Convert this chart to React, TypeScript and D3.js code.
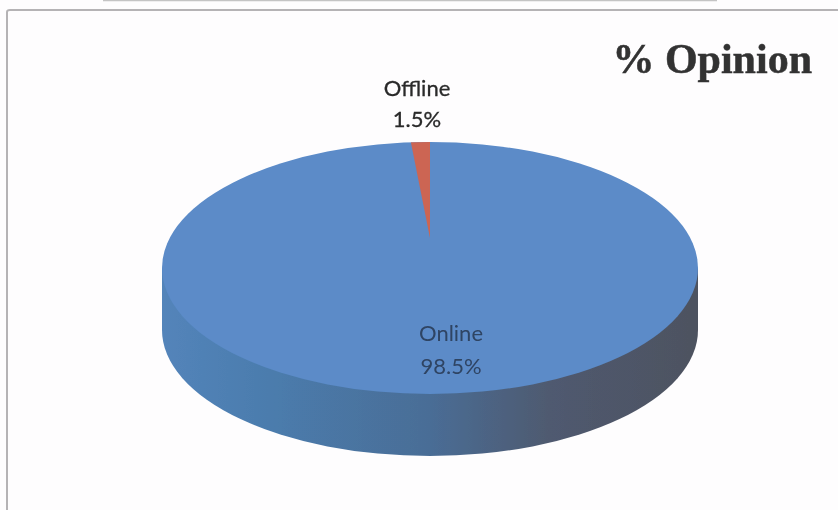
import React from "react";
import * as d3 from "d3";

const categories = ["Online", "Offline"];
const shares = [98.5, 1.5];
const shareLabels = ["98.5%", "1.5%"];
const colors = ["#5b8bc8", "#cc6553"];
const title = "% Opinion";

const W = 838, H = 510;
const cx = 430, cy = 268, rx = 268, ry = 126, depth = 62;
const apexY = 238;

export default function App() {
  const pie = d3.pie<number>().sort(null).startAngle(0).endAngle(2 * Math.PI)(shares);
  const arc = d3.arc<d3.PieArcDatum<number>>().innerRadius(0).outerRadius(1);
  const sidePath =
    `M${cx - rx},${cy} L${cx - rx},${cy + depth} ` +
    `A${rx},${ry} 0 0 0 ${cx + rx},${cy + depth} L${cx + rx},${cy} Z`;
  const sliceRx = 207;
  const sliceRy = apexY - (cy - ry);
  return (
    <svg width={W} height={H} viewBox={`0 0 ${W} ${H}`}
      style={{ position: "fixed", left: 0, top: 0, display: "block", background: "#fefdfe" }}>
      <defs>
        <linearGradient id="side" x1="0" x2="1" y1="0" y2="0">
          <stop offset="0" stopColor="#5384ba" />
          <stop offset="0.2" stopColor="#4b7cad" />
          <stop offset="0.5" stopColor="#4a6d96" />
          <stop offset="0.72" stopColor="#4f5a70" />
          <stop offset="1" stopColor="#4e5260" />
        </linearGradient>
        <clipPath id="top"><ellipse cx={cx} cy={cy} rx={rx} ry={ry} /></clipPath>
        <filter id="soft" x="-5%" y="-5%" width="110%" height="110%"><feGaussianBlur stdDeviation="0.7" /></filter>
        <filter id="softText" x="-5%" y="-20%" width="110%" height="140%"><feGaussianBlur stdDeviation="0.35" /></filter>
      </defs>
      <line x1={103} x2={717} y1={0.5} y2={0.5} stroke="#c4c4c4" strokeWidth={1.5} />
      <path d={`M7,${H} L7,12 Q7,10 10,10 L${W},10`} fill="none" stroke="#b5b3b5" strokeWidth={2} />
      <g filter="url(#soft)">
        <path d={sidePath} fill="url(#side)" />
        <ellipse cx={cx} cy={cy} rx={rx} ry={ry} fill={colors[0]} />
        <g clipPath="url(#top)">
          <g transform={`translate(${cx},${apexY}) scale(${sliceRx},${sliceRy * 1.02})`}>
            <path d={arc(pie[1]) as string} fill={colors[1]} />
          </g>
        </g>
      </g>
      <g fontFamily="Lato, 'Noto Sans', sans-serif" fontSize={22} textAnchor="middle" filter="url(#softText)">
        <text x={417} y={96} fill="#2a2a2a" stroke="#2a2a2a" strokeWidth={0.3}>{categories[1]}</text>
        <text x={417} y={127} fill="#2a2a2a" stroke="#2a2a2a" strokeWidth={0.3}>{shareLabels[1]}</text>
        <text x={451} y={341} fill="#2f4464">{categories[0]}</text>
        <text x={451} y={374} fill="#2f4464">{shareLabels[0]}</text>
      </g>
      <text x={812} y={73} textAnchor="end" fontFamily="'Liberation Serif', serif" fontWeight="bold" fontSize={42} fill="#333333" stroke="#333333" strokeWidth={0.5} filter="url(#softText)">{title}</text>
    </svg>
  );
}
